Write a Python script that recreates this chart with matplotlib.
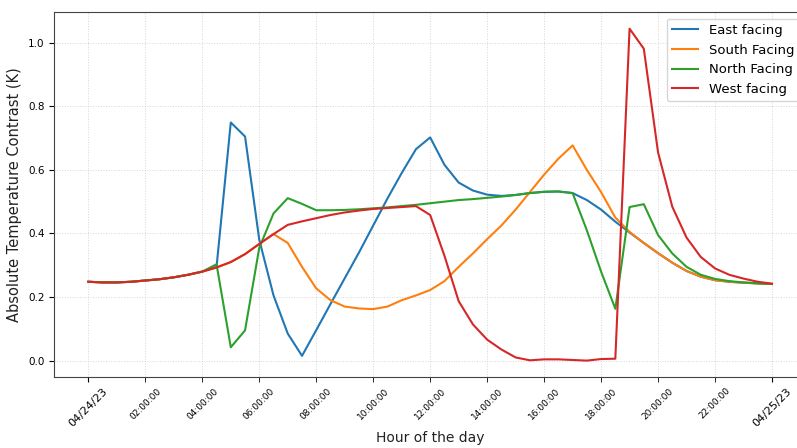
import numpy as np
import pandas as pd
import matplotlib
matplotlib.use("Agg")
import matplotlib.pyplot as plt
import matplotlib.dates as mdates

# half-hour samples over one day
hours = np.arange(0, 24.5, 0.5)
start = pd.Timestamp("2023-04-24")
times = [start + pd.Timedelta(hours=h) for h in hours]

east = [0.248, 0.246, 0.246, 0.248, 0.252, 0.256, 0.262, 0.270, 0.280, 0.295,
        0.749, 0.705, 0.380, 0.205, 0.085, 0.015, 0.096, 0.178, 0.259, 0.340,
        0.425, 0.510, 0.590, 0.665, 0.702, 0.616, 0.560, 0.535, 0.522, 0.518,
        0.521, 0.527, 0.531, 0.532, 0.527, 0.505, 0.475, 0.437, 0.403, 0.370,
        0.338, 0.308, 0.282, 0.264, 0.253, 0.248, 0.245, 0.243, 0.241]

south = [0.248, 0.246, 0.246, 0.248, 0.252, 0.256, 0.262, 0.270, 0.280, 0.293,
         0.310, 0.335, 0.367, 0.398, 0.370, 0.295, 0.227, 0.190, 0.170, 0.164,
         0.162, 0.170, 0.190, 0.205, 0.222, 0.250, 0.295, 0.337, 0.382, 0.425,
         0.475, 0.530, 0.585, 0.635, 0.677, 0.600, 0.530, 0.450, 0.405, 0.370,
         0.338, 0.308, 0.282, 0.264, 0.253, 0.248, 0.245, 0.243, 0.241]

north = [0.248, 0.246, 0.246, 0.248, 0.252, 0.256, 0.262, 0.270, 0.280, 0.303,
         0.042, 0.095, 0.355, 0.463, 0.511, 0.493, 0.473, 0.473, 0.474, 0.476,
         0.479, 0.482, 0.486, 0.490, 0.495, 0.500, 0.505, 0.508, 0.512, 0.516,
         0.521, 0.527, 0.531, 0.532, 0.527, 0.410, 0.280, 0.163, 0.483, 0.492,
         0.395, 0.337, 0.295, 0.270, 0.257, 0.250, 0.246, 0.243, 0.241]

west = [0.248, 0.246, 0.246, 0.248, 0.252, 0.256, 0.262, 0.270, 0.280, 0.293,
        0.310, 0.335, 0.367, 0.398, 0.427, 0.438, 0.448, 0.458, 0.466, 0.472,
        0.477, 0.480, 0.483, 0.486, 0.458, 0.330, 0.187, 0.114, 0.066, 0.035,
        0.010, 0.001, 0.004, 0.004, 0.002, 0.000, 0.005, 0.006, 1.044, 0.981,
        0.655, 0.484, 0.387, 0.326, 0.290, 0.270, 0.258, 0.248, 0.242]

fig = plt.figure(figsize=(7.97, 4.48), dpi=100)
# the original screenshot is cropped on the right, so the axes run past the edge
ax = fig.add_axes([0.068, 0.158, 0.9435, 0.815])

ax.plot(times, east, color="#1f77b4", lw=1.5, label="East facing")
ax.plot(times, south, color="#ff7f0e", lw=1.5, label="South Facing")
ax.plot(times, north, color="#2ca02c", lw=1.5, label="North Facing")
ax.plot(times, west, color="#d62728", lw=1.5, label="West facing")

ax.xaxis.set_major_locator(mdates.DayLocator())
ax.xaxis.set_major_formatter(mdates.DateFormatter("%m/%d/%y"))
ax.xaxis.set_minor_locator(mdates.HourLocator(byhour=range(2, 24, 2)))
ax.xaxis.set_minor_formatter(mdates.DateFormatter("%H:%M:%S"))
ax.tick_params(axis="x", which="major", labelsize=8, labelrotation=45, pad=3)
ax.tick_params(axis="x", which="minor", labelsize=6.5, labelrotation=45, length=3.5, pad=3)
ax.tick_params(axis="y", labelsize=7.5)

ax.grid(True, which="both", color="#cccccc", ls=":", lw=0.7, alpha=0.8)
ax.set_ylabel("Absolute Temperature Contrast (K)", fontsize=10.5, color="#222222")
ax.set_xlabel("Hour of the day", fontsize=10, labelpad=2, color="#222222")
for s in ax.spines.values():
    s.set_color("#444444")

ax.legend(loc="upper right", fontsize=9.5)

fig.savefig("out.png", dpi=100)
